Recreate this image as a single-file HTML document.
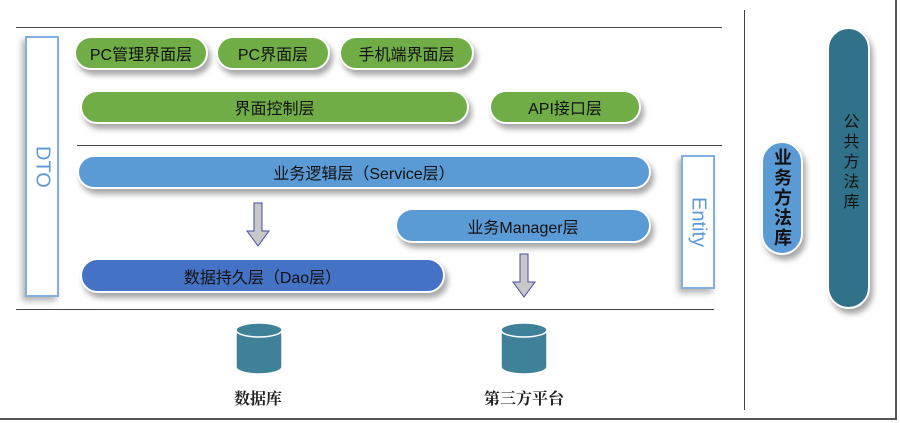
<!DOCTYPE html>
<html><head><meta charset="utf-8"><style>
body{margin:0;background:#fff}
#c{position:relative;width:900px;height:423px;overflow:hidden;background:#fff;font-family:"Liberation Sans","Noto Sans CJK SC",sans-serif}
.a{position:absolute;box-sizing:border-box}
.p{position:absolute;box-sizing:border-box;border:2px solid #fff;border-radius:999px;display:flex;align-items:center;justify-content:center;font-size:16px;color:#111;box-shadow:3px 5px 6px rgba(0,0,0,.35)}
.g{background:#70ad47}
.b{background:#5b9bd5}
.d{background:#4472c4}
.t{background:#31728a}
.ln{position:absolute;height:1px;background:#444}
.vt{writing-mode:vertical-rl;color:#5b9bd5;font-size:20px}
.lab{position:absolute;font-family:"Liberation Serif","Noto Serif CJK SC",serif;font-weight:bold;font-size:16px;color:#222;text-align:center;width:120px}
</style></head><body><div id="c">
<div class="a" style="left:0;top:0;width:897px;height:420px;border-right:2px solid #555;border-bottom:2px solid #555"></div>
<div class="ln" style="left:16px;top:27px;width:706px"></div>
<div class="ln" style="left:77px;top:145px;width:645px"></div>
<div class="ln" style="left:16px;top:309px;width:698px"></div>
<div class="a" style="left:744px;top:10px;width:1px;height:400px;background:#444"></div>

<div class="a" style="left:25px;top:36px;width:34px;height:261px;border:2px solid #7fb0e0;background:#fff;box-shadow:-3px 4px 6px rgba(0,0,0,.3);display:flex;align-items:center;justify-content:center"><span class="vt">DTO</span></div>
<div class="a" style="left:681px;top:155px;width:34px;height:134px;border:2px solid #7fb0e0;background:#fff;box-shadow:-3px 4px 6px rgba(0,0,0,.3);display:flex;align-items:center;justify-content:center"><span class="vt">Entity</span></div>

<div class="p g" style="left:74px;top:36px;width:134px;height:34px">PC管理界面层</div>
<div class="p g" style="left:216px;top:36px;width:114px;height:34px">PC界面层</div>
<div class="p g" style="left:339px;top:36px;width:135px;height:34px">手机端界面层</div>
<div class="p g" style="left:80px;top:90px;width:389px;height:34px">界面控制层</div>
<div class="p g" style="left:489px;top:90px;width:152px;height:34px">API接口层</div>

<div class="p b" style="left:77px;top:155px;width:574px;height:34px">业务逻辑层（Service层）</div>
<div class="p b" style="left:395px;top:208px;width:256px;height:35px">业务Manager层</div>
<div class="p d" style="left:80px;top:258px;width:365px;height:35px">数据持久层（Dao层）</div>

<svg class="a" style="left:0;top:0" width="900" height="423">
<path d="M254 203h8v28h7l-11 15l-11-15h7z" fill="#c8c8c8" stroke="#4a4aa8" stroke-width="1"/>
<path d="M520 254h8v28h7l-11 15l-11-15h7z" fill="#c8c8c8" stroke="#4a4aa8" stroke-width="1"/>
<g fill="#3f8199" stroke="#fff" stroke-width="1.5">
<path d="M236 330v37a23 7 0 0 0 46 0v-37z"/><ellipse cx="259" cy="330" rx="23" ry="7"/>
<path d="M501 330v37a23 7 0 0 0 46 0v-37z"/><ellipse cx="524" cy="330" rx="23" ry="7"/>
</g>
</svg>
<div class="lab" style="left:198px;top:386px">数据库</div>
<div class="lab" style="left:464px;top:386px">第三方平台</div>

<div class="p b" style="left:761px;top:141px;width:42px;height:114px;font-size:18px;font-weight:bold;writing-mode:vertical-rl;letter-spacing:2px">业务方法库</div>
<div class="p t" style="left:827px;top:27px;width:43px;height:282px;font-size:16px;writing-mode:vertical-rl;letter-spacing:4px;align-items:center;justify-content:flex-start;padding-top:84px">公共方法库</div>
</div></body></html>
